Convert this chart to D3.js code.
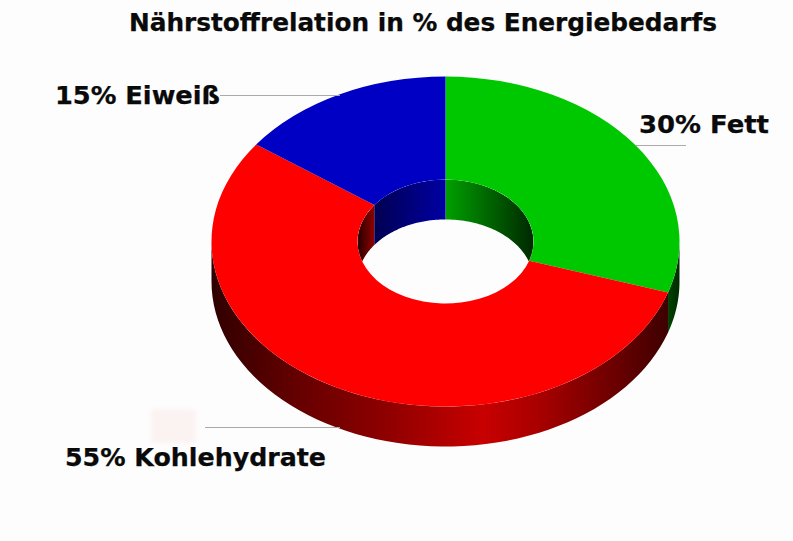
<!DOCTYPE html>
<html><head><meta charset="utf-8">
<style>html,body{margin:0;padding:0;background:#fdfdfd}svg{display:block}text{font-family:"DejaVu Sans";font-weight:bold;fill:#0a0a0a;stroke:#0a0a0a;stroke-width:.25px}</style>
<script src="https://cdn.jsdelivr.net/npm/d3@7"></script></head><body>
<script>
const categories = ["Fett", "Kohlehydrate", "Eiweiß"];
const shares = [30, 55, 15];
const topColors = ["#00c800", "#ff0000", "#0000c4"];
const labels = ["30% Fett", "55% Kohlehydrate", "15% Eiweiß"];
const title = "Nährstoffrelation in % des Energiebedarfs";

const W = 793, H = 541, cx = 445.5, cy = 241.5, rx = 234, ry = 165, rIn = 88, depth = 40;
const sy = ry / rx;
const svg = d3.select("body").append("svg").attr("width", W).attr("height", H);
const defs = svg.append("defs");
svg.append("rect").attr("width", W).attr("height", H).attr("fill", "#fdfdfd");

const arcs = d3.pie().sort(null).value(d => d)(shares);
const px = (a, r) => cx + r * Math.sin(a);
const py = (a, r) => cy - r * sy * Math.cos(a);

function grad(id, x1, x2, stops) {
  const g = defs.append("linearGradient").attr("id", id).attr("gradientUnits", "userSpaceOnUse")
    .attr("x1", x1).attr("x2", x2).attr("y1", 0).attr("y2", 0);
  stops.forEach(s => g.append("stop").attr("offset", s[0]).attr("stop-color", s[1]));
}
grad("outerRed", 212, 679, [[0, "#300000"], [.18, "#640000"], [.38, "#900000"], [.58, "#c80000"], [.7, "#a80000"], [.86, "#6c0000"], [1, "#340000"]]);
grad("outerGreen", 665, 679, [[0, "#004800"], [1, "#002c00"]]);
grad("innerRed", 357, 374, [[0, "#200000"], [1, "#900000"]]);
grad("innerBlue", 374, 445.5, [[0, "#000050"], [1, "#0000a4"]]);
grad("innerGreen", 445.5, 533.5, [[0, "#00a000"], [.5, "#006400"], [1, "#002800"]]);

function wall(a0, a1, r) {
  const angles = d3.range(0, 61).map(i => a0 + (a1 - a0) * i / 60);
  const upper = angles.map(a => [px(a, r), py(a, r)]);
  const lower = angles.slice().reverse().map(a => [px(a, r), py(a, r) + depth]);
  return d3.line()(upper.concat(lower)) + "Z";
}
const outerWalls = [["outerGreen", 0], ["outerRed", 1]];
const T = 2 * Math.PI, Q = Math.PI / 2;
outerWalls.forEach(([g, i]) => {
  const a0 = Math.max(arcs[i].startAngle, Q), a1 = Math.min(arcs[i].endAngle, 3 * Q);
  svg.append("path").attr("d", wall(a0, a1, rx)).attr("fill", `url(#${g})`);
});

// hole: inner walls clipped to the inner ellipse
const clip = defs.append("clipPath").attr("id", "hole");
clip.append("ellipse").attr("cx", cx).attr("cy", cy).attr("rx", rIn).attr("ry", rIn * sy);
const hole = svg.append("g").attr("clip-path", "url(#hole)");
hole.append("rect").attr("width", W).attr("height", H).attr("fill", "#fdfdfd");
[["innerGreen", arcs[0].startAngle, Q], ["innerRed", 3 * Q, arcs[2].startAngle], ["innerBlue", arcs[2].startAngle, T]]
  .forEach(([g, a0, a1]) => hole.append("path").attr("d", wall(a0, a1, rIn)).attr("fill", `url(#${g})`));

// top face
const arc = d3.arc().innerRadius(rIn).outerRadius(rx);
svg.append("g").attr("transform", `translate(${cx},${cy}) scale(1,${sy})`)
  .selectAll("path").data(arcs).join("path")
  .attr("d", arc).attr("fill", (d, i) => topColors[i]);

// faint legend residue
defs.append("filter").attr("id", "soft").append("feGaussianBlur").attr("stdDeviation", 2);
svg.append("rect").attr("x", 151).attr("y", 409).attr("width", 45).attr("height", 34).attr("rx", 3)
  .attr("fill", "#fbf3f1").attr("filter", "url(#soft)");

// leaders
const leaders = [[636, 686, 145.5], [205, 340, 427.5], [220, 340, 95.5]];
svg.selectAll("line.l").data(leaders).join("line")
  .attr("x1", d => d[0]).attr("x2", d => d[1]).attr("y1", d => d[2]).attr("y2", d => d[2])
  .attr("stroke", "#aaaaaa").attr("stroke-width", 1);

// text
const labelPos = [[639, 133, 130], [65, 466, 261], [55, 104, 165]];
svg.selectAll("text.lab").data(labels).join("text").attr("class", "lab")
  .attr("x", (d, i) => labelPos[i][0]).attr("y", (d, i) => labelPos[i][1])
  .attr("textLength", (d, i) => labelPos[i][2]).attr("lengthAdjust", "spacingAndGlyphs")
  .attr("font-size", 24).text(d => d);
svg.append("text").attr("x", 129).attr("y", 30.5).attr("font-size", 24)
  .attr("textLength", 588).attr("lengthAdjust", "spacingAndGlyphs").text(title);
</script></body></html>
